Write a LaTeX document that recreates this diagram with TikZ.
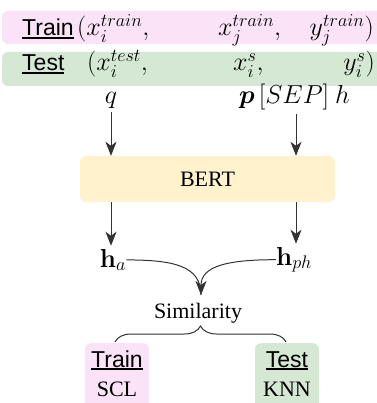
\documentclass[tikz,border=0pt]{standalone}
\usepackage{fix-cm}
\usepackage{amsmath}
\usepackage[no-math]{fontspec}
\setmainfont{Liberation Serif}
\setsansfont{Liberation Sans}
\usepackage{tikz}
\usetikzlibrary{arrows.meta,decorations.pathreplacing}

\definecolor{trainpink}{RGB}{250,227,246}
\definecolor{testgreen}{RGB}{213,232,212}
\definecolor{bertyellow}{RGB}{255,242,204}
\definecolor{arrgray}{RGB}{51,51,51}

\newcommand{\ulword}[1]{\setbox0\hbox{#1}\rlap{\rule[-2.6pt]{\wd0}{1.7pt}}\box0}

\begin{document}
\begin{tikzpicture}[x=1pt,y=1pt,
	every node/.style={inner sep=0pt},
	mth/.style={font=\fontsize{26}{30}\selectfont,anchor=base west},
	lbl/.style={font=\sffamily\fontsize{23}{28}\selectfont,anchor=base west},
	txt/.style={font=\fontsize{22}{26}\selectfont},
	band/.style={rounded corners=6pt},
	arr/.style={draw=arrgray,line width=1pt,-{Stealth[length=14pt,width=11pt,inset=4pt]}},
	curv/.style={draw=arrgray,line width=1pt}]
	\useasboundingbox (0,0) rectangle (376,-403);
	% input rows
	\fill [band,trainpink] (2,-11) rectangle (420,-44);
	\fill [band,testgreen] (2,-52) rectangle (420,-86);
	\node [lbl] (trainlbl) at (22,-36) {\ulword{Train}};
	\node [mth] (xitrain) at (77,-36) {$(x_i^{train},$};
	\node [mth] (xjtrain) at (218,-36) {$x_j^{train},$};
	\node [mth,anchor=base east] (yjtrain) at (374,-36) {$y_j^{train})$};
	\node [lbl] (testlbl) at (22,-71) {\ulword{Test}};
	\node [mth] (xitest) at (87,-71) {$(x_i^{test},$};
	\node [mth] (xis) at (233,-71) {$x_i^{s},$};
	\node [mth,anchor=base east] (yis) at (375,-71) {$y_i^{s})$};
	\node [mth,anchor=base] (q) at (111,-104) {$q$};
	\node [mth] (p) at (239,-104) {$\boldsymbol{p}$};
	\node [mth,anchor=base] (sep) at (294,-104) {$[SEP]$};
	\node [mth] (h) at (335,-104) {$h$};
	% encoder
	\node [txt,band,fill=bertyellow,minimum width=255,minimum height=46] (bert) at (207.5,-179) {BERT};
	\draw [arr] ([yshift=-3pt]q.south) -- (q.south |- bert.north);
	\draw [arr] ([xshift=2pt,yshift=-3pt]sep.south) -- ([xshift=2pt]sep.south |- bert.north);
	\node [mth,anchor=base] (ha) at (113,-267) {$\mathbf{h}_a$};
	\node [mth,anchor=base] (hph) at (294,-265) {$\mathbf{h}_{ph}$};
	\draw [arr] (bert.south -| q.south) -- ([yshift=3pt]q.south |- ha.north);
	\draw [arr] ([xshift=2pt]bert.south -| sep.south) -- ([xshift=2pt,yshift=3pt]sep.south |- hph.north);
	% similarity
	\coordinate (merge) at (201,-295);
	\draw [curv] (ha.east) .. controls +(48,0) and (201,-266) .. (merge);
	\draw [arr] (hph.west) .. controls +(-48,0) and (201,-266) .. (merge);
	\node [txt,anchor=base] (sim) at (198,-318) {Similarity};
	% objectives
	\node [band,fill=trainpink,minimum width=64,minimum height=80,anchor=north] (trainbox) at (117,-343) {};
	\node [band,fill=testgreen,minimum width=64,minimum height=80,anchor=north] (testbox) at (287,-343) {};
	\node [lbl,anchor=base] (trainobj) at (117,-367) {\ulword{Train}};
	\node [txt,anchor=base] (scl) at (117,-396) {SCL};
	\node [lbl,anchor=base] (testobj) at (287,-367) {\ulword{Test}};
	\node [txt,anchor=base] (knn) at (287,-396) {KNN};
	\draw [curv,decorate,decoration={brace,amplitude=16pt}] ([xshift=-2pt,yshift=1pt]trainbox.north) -- ([xshift=-1pt,yshift=1pt]testbox.north);
\end{tikzpicture}
\end{document}
